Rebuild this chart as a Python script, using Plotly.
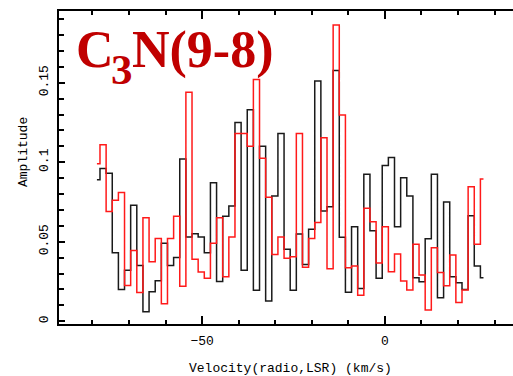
import numpy as np
import plotly.graph_objects as go

# Channel grid of the spectrum (km/s): first channel centre and channel width
v_first = -78.76
dv = 1.678
n_chan = 64
velocity = v_first + dv * np.arange(n_chan)

# Spectrum 1 (black)
amp_black = [
    0.089, 0.096, 0.093, 0.043, 0.020, 0.032, 0.073, 0.035, 0.006, 0.0185,
    0.0255, 0.049, 0.035, 0.040, 0.102, 0.053, 0.055, 0.053, 0.043, 0.087,
    0.025, 0.066, 0.0725, 0.125, 0.032, 0.133, 0.0195, 0.110, 0.0127, 0.0787,
    0.118, 0.0452, 0.0194, 0.0548, 0.0356, 0.0578, 0.151, 0.0693, 0.072, 0.1576,
    0.0528, 0.0182, 0.0594, 0.0205, 0.0924, 0.0569, 0.027, 0.098, 0.103, 0.0594,
    0.0903, 0.0787, 0.0274, 0.0248, 0.0519, 0.0924, 0.0148, 0.075, 0.028, 0.0242,
    0.020, 0.0664, 0.0347, 0.0274,
]

# Spectrum 2 (red)
amp_red = [
    0.099, 0.111, 0.069, 0.076, 0.081, 0.0225, 0.0445, 0.018, 0.065, 0.0374,
    0.052, 0.011, 0.052, 0.066, 0.022, 0.144, 0.039, 0.031, 0.027, 0.049,
    0.065, 0.028, 0.053, 0.118, 0.118, 0.110, 0.152, 0.1025, 0.078, 0.042,
    0.053, 0.0396, 0.0406, 0.118, 0.034, 0.052, 0.062, 0.1154, 0.033, 0.1863,
    0.1297, 0.0336, 0.0347, 0.0164, 0.071, 0.0626, 0.0366, 0.0594, 0.0311, 0.0423,
    0.0253, 0.0196, 0.0484, 0.029, 0.007, 0.0462, 0.0307, 0.0223, 0.0416, 0.0118,
    0.0196, 0.0846, 0.0484, 0.0894,
]

x_range = [-89.13, 35.03]
y_range = [-0.00176, 0.1951]

# plot-area geometry in pixels, used to place the free text
L, R, T, B = 59, 513, 11, 324
W, H = R - L, B - T


def px(x):
    return (x - L) / W


def py(y):
    return (B - y) / H


fig = go.Figure()
fig.add_trace(go.Scatter(
    x=velocity, y=amp_black, mode="lines", line_shape="hvh",
    line=dict(color="#1a1a1a", width=1.5), showlegend=False, hoverinfo="skip",
))
fig.add_trace(go.Scatter(
    x=velocity, y=amp_red, mode="lines", line_shape="hvh",
    line=dict(color="#ff1a1a", width=1.5), showlegend=False, hoverinfo="skip",
))

mono = "Liberation Mono, Courier New, monospace"
tick_font = dict(family=mono, size=13, color="black")

fig.update_xaxes(
    range=x_range, showline=True, linecolor="black", linewidth=2, mirror="ticks",
    ticks="inside", ticklen=8, tickwidth=1.5, tickcolor="black",
    tick0=0, dtick=50, showgrid=False, zeroline=False,
    tickfont=tick_font, ticklabelstandoff=3,
    minor=dict(ticks="inside", ticklen=4, tickwidth=1.5, tickcolor="black", dtick=10, showgrid=False),
)
fig.update_yaxes(
    range=y_range, showline=True, linecolor="black", linewidth=2, mirror=False,
    ticks="inside", ticklen=6, tickwidth=1.5, tickcolor="black",
    tick0=0, dtick=0.05, showgrid=False, zeroline=False,
    tickfont=tick_font, tickangle=-90, ticklabelstandoff=4,
    minor=dict(ticks="inside", ticklen=5, tickwidth=1.5, tickcolor="black", dtick=0.01, showgrid=False),
)

fig.add_annotation(
    text="Velocity(radio,LSR) (km/s)", xref="paper", yref="paper",
    x=px(290), y=py(368), xanchor="center", yanchor="middle",
    showarrow=False, font=dict(family=mono, size=13, color="black"),
)
fig.add_annotation(
    text="Amplitude", xref="paper", yref="paper",
    x=px(23), y=py(152), xanchor="center", yanchor="middle",
    textangle=-90, showarrow=False,
    font=dict(family=mono, size=13, color="black"),
)

# molecule label: C, subscript 3, N(9-8)
serif = "Liberation Serif, Times New Roman, serif"
title_font = dict(family=serif, size=52, color="#c00000", weight="bold")
sub_font = dict(family=serif, size=43, color="#c00000", weight="bold")
fig.add_annotation(
    text="C", xref="paper", yref="paper", x=px(75), y=py(20),
    xanchor="left", yanchor="top", showarrow=False, font=title_font, borderpad=0,
)
fig.add_annotation(
    text="3", xref="paper", yref="paper", x=px(110), y=py(45),
    xanchor="left", yanchor="top", showarrow=False, font=sub_font, borderpad=0,
)
fig.add_annotation(
    text="N(9-8)", xref="paper", yref="paper", x=px(131), y=py(20),
    xanchor="left", yanchor="top", showarrow=False, font=title_font, borderpad=0,
)

fig.update_layout(
    width=513, height=376,
    margin=dict(l=L, r=513 - R, t=T, b=376 - B),
    paper_bgcolor="white", plot_bgcolor="white",
)

fig.write_html("out.html")
